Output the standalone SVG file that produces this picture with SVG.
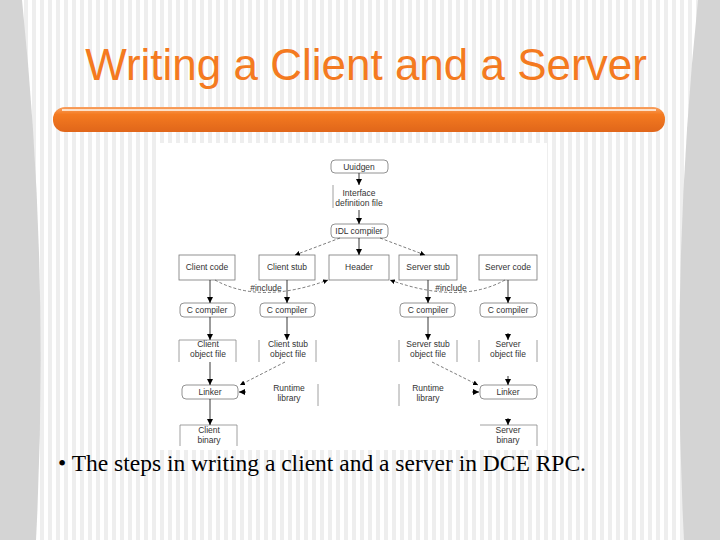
<svg xmlns="http://www.w3.org/2000/svg" width="720" height="540" viewBox="0 0 720 540">
<defs>
<pattern id="stripes" width="8" height="540" patternUnits="userSpaceOnUse"><rect width="8" height="540" fill="#fff"/><rect x="0" width="4" height="540" fill="#eeeeee"/></pattern>
<linearGradient id="bar" x1="0" y1="0" x2="0" y2="1"><stop offset="0" stop-color="#f8a060"/><stop offset="0.3" stop-color="#f47a20"/><stop offset="1" stop-color="#e0661a"/></linearGradient>
<marker id="ah" viewBox="0 0 10 10" refX="10" refY="5" markerWidth="7" markerHeight="7" orient="auto"><path d="M0,0 L10,5 L0,10 z" fill="#000"/></marker>
</defs>
<style>
.t{font-family:"Liberation Sans",Arial,sans-serif;font-size:8.5px;fill:#333;text-anchor:middle}
.b{fill:#fff;stroke:#777;stroke-width:0.8}
.s{stroke:#888;stroke-width:0.8;fill:none}
.a{stroke:#222;stroke-width:0.9;fill:none;marker-end:url(#ah)}
.d{stroke:#444;stroke-width:0.7;fill:none;stroke-dasharray:3,2;marker-end:url(#ah)}
</style>
<rect width="720" height="540" fill="url(#stripes)"/>
<path d="M0,0 L22,0 Q50,270 36,540 L0,540 z" fill="#d4d4d4"/>
<path d="M720,0 L698,0 Q670,270 684,540 L720,540 z" fill="#d4d4d4"/>
<text x="366" y="80" font-family="Liberation Sans,Arial,sans-serif" font-size="44" fill="#f47a20" text-anchor="middle">Writing a Client and a Server</text>
<rect x="53" y="107" width="612" height="25" rx="12" fill="url(#bar)"/>
<line x1="62" y1="110" x2="656" y2="110" stroke="#fde0c8" stroke-width="2"/>
<rect x="157" y="143" width="390" height="307" fill="#fff"/>
<g id="uuidgen"><rect class="b" x="331" y="160" width="57" height="13" rx="4"/><text class="t" x="359" y="170">Uuidgen</text></g>
<g id="idf"><line class="s" x1="333" y1="185" x2="333" y2="208"/><text class="t" x="359" y="196">Interface</text><text class="t" x="359" y="206">definition file</text></g>
<g id="idl"><rect class="b" x="331" y="224" width="57" height="14" rx="4"/><text class="t" x="359" y="234">IDL compiler</text></g>
<g id="ccode"><rect class="b" x="179" y="255" width="56" height="25"/><text class="t" x="207" y="270">Client code</text></g>
<g id="cstub"><rect class="b" x="259" y="255" width="56" height="25"/><text class="t" x="287" y="270">Client stub</text></g>
<g id="header"><rect class="b" x="329" y="255" width="60" height="25"/><text class="t" x="359" y="270">Header</text></g>
<g id="sstub"><rect class="b" x="399" y="255" width="58" height="25"/><text class="t" x="428" y="270">Server stub</text></g>
<g id="scode"><rect class="b" x="479" y="255" width="58" height="25"/><text class="t" x="508" y="270">Server code</text></g>
<g id="cc1"><rect class="b" x="180" y="303" width="55" height="14" rx="4"/><text class="t" x="207" y="313">C compiler</text></g>
<g id="cc2"><rect class="b" x="260" y="303" width="55" height="14" rx="4"/><text class="t" x="287" y="313">C compiler</text></g>
<g id="cc3"><rect class="b" x="400" y="303" width="55" height="14" rx="4"/><text class="t" x="428" y="313">C compiler</text></g>
<g id="cc4"><rect class="b" x="480" y="303" width="57" height="14" rx="4"/><text class="t" x="508" y="313">C compiler</text></g>
<g id="cobj"><path class="s" d="M179,362 V340 H236 V362"/><text class="t" x="208" y="347">Client</text><text class="t" x="208" y="357">object file</text></g>
<g id="csobj"><path class="s" d="M259,362 V340 M316,340 V362"/><text class="t" x="288" y="347">Client stub</text><text class="t" x="288" y="357">object file</text></g>
<g id="ssobj"><path class="s" d="M399,362 V340 M457,340 V362"/><text class="t" x="428" y="347">Server stub</text><text class="t" x="428" y="357">object file</text></g>
<g id="sobj"><path class="s" d="M479,362 V340 M537,340 V362"/><text class="t" x="508" y="347">Server</text><text class="t" x="508" y="357">object file</text></g>
<g id="clink"><rect class="b" x="182" y="385" width="56" height="14" rx="4"/><text class="t" x="210" y="395">Linker</text></g>
<g id="crt"><line class="s" x1="318" y1="384" x2="318" y2="406"/><text class="t" x="289" y="391">Runtime</text><text class="t" x="289" y="401">library</text></g>
<g id="srt"><line class="s" x1="399" y1="384" x2="399" y2="406"/><text class="t" x="428" y="391">Runtime</text><text class="t" x="428" y="401">library</text></g>
<g id="slink"><rect class="b" x="480" y="385" width="57" height="14" rx="4"/><text class="t" x="508" y="395">Linker</text></g>
<g id="cbin"><path class="s" d="M180,446 V425 H237 V446"/><text class="t" x="209" y="433">Client</text><text class="t" x="209" y="443">binary</text></g>
<g id="sbin"><path class="s" d="M480,425 H537 V446"/><text class="t" x="508" y="433">Server</text><text class="t" x="508" y="443">binary</text></g>
<text class="t" x="266" y="291">#include</text>
<text class="t" x="451" y="291">#include</text>
<g id="connectors">
<line class="a" x1="359" y1="173" x2="359" y2="185"/>
<line class="a" x1="359" y1="210" x2="359" y2="224"/>
<line class="a" x1="359" y1="238" x2="359" y2="255"/>
<line class="d" x1="340" y1="238" x2="295" y2="255"/>
<line class="d" x1="380" y1="238" x2="425" y2="255"/>
<path class="d" d="M215,280 Q260,305 328,280"/>
<path class="d" d="M505,280 Q460,305 390,280"/>
<line class="a" x1="210" y1="280" x2="210" y2="303"/>
<line class="a" x1="287" y1="280" x2="287" y2="303"/>
<line class="a" x1="428" y1="280" x2="428" y2="303"/>
<line class="a" x1="508" y1="280" x2="508" y2="303"/>
<line class="a" x1="210" y1="317" x2="210" y2="340"/>
<line class="a" x1="287" y1="317" x2="287" y2="340"/>
<line class="a" x1="428" y1="317" x2="428" y2="340"/>
<line class="a" x1="508" y1="333" x2="508" y2="340"/>
<line class="a" x1="210" y1="362" x2="210" y2="385"/>
<line class="a" x1="508" y1="376" x2="508" y2="385"/>
<line class="d" x1="285" y1="362" x2="240" y2="385"/>
<line class="d" x1="432" y1="362" x2="478" y2="385"/>
<line class="a" x1="246" y1="392" x2="239" y2="392"/>
<line class="a" x1="472" y1="392" x2="479" y2="392"/>
<line class="a" x1="210" y1="399" x2="210" y2="425"/>
<line class="a" x1="508" y1="418" x2="508" y2="425"/>
</g>
<text x="58" y="471" font-family="Liberation Serif,Times New Roman,serif" font-size="23.5" fill="#000">• The steps in writing a client and a server in DCE RPC.</text>
</svg>
